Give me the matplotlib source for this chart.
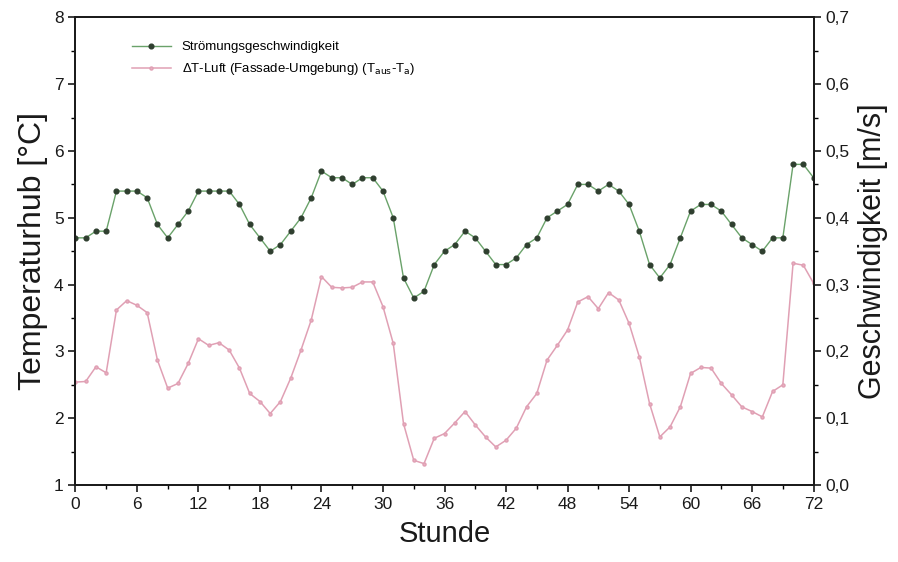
import matplotlib
matplotlib.use('Agg')
import matplotlib.pyplot as plt
from matplotlib.ticker import MultipleLocator, FuncFormatter

plt.rcParams['font.family'] = ['Liberation Sans', 'DejaVu Sans']

# Stunden 0..72
stunde = list(range(73))

# Strömungsgeschwindigkeit [m/s]
geschw = [0.37, 0.37, 0.38, 0.38, 0.44, 0.44, 0.44, 0.43, 0.39, 0.37,
          0.39, 0.41, 0.44, 0.44, 0.44, 0.44, 0.42, 0.39, 0.37, 0.35,
          0.36, 0.38, 0.40, 0.43, 0.47, 0.46, 0.46, 0.45, 0.46, 0.46,
          0.44, 0.40, 0.31, 0.28, 0.29, 0.33, 0.35, 0.36, 0.38, 0.37,
          0.35, 0.33, 0.33, 0.34, 0.36, 0.37, 0.40, 0.41, 0.42, 0.45,
          0.45, 0.44, 0.45, 0.44, 0.42, 0.38, 0.33, 0.31, 0.33, 0.37,
          0.41, 0.42, 0.42, 0.41, 0.39, 0.37, 0.36, 0.35, 0.37, 0.37,
          0.48, 0.48, 0.46]

# Delta T Luft [°C]
delta_t = [2.54, 2.55, 2.77, 2.68, 3.62, 3.76, 3.69, 3.58, 2.87, 2.45,
           2.52, 2.82, 3.19, 3.09, 3.13, 3.02, 2.75, 2.37, 2.25, 2.07,
           2.25, 2.60, 3.02, 3.47, 4.12, 3.96, 3.95, 3.96, 4.04, 4.04,
           3.67, 3.12, 1.92, 1.37, 1.32, 1.70, 1.77, 1.93, 2.10, 1.90,
           1.72, 1.57, 1.67, 1.85, 2.17, 2.37, 2.87, 3.09, 3.32, 3.74,
           3.82, 3.64, 3.88, 3.77, 3.42, 2.92, 2.22, 1.72, 1.87, 2.17,
           2.67, 2.76, 2.75, 2.52, 2.35, 2.17, 2.10, 2.02, 2.40, 2.50,
           4.32, 4.29, 4.02]

fig = plt.figure(figsize=(8.98, 5.62), dpi=100)
ax1 = fig.add_axes([0.084, 0.137, 0.822, 0.832])
ax2 = ax1.twinx()

l2, = ax1.plot(stunde, delta_t, color='#e0a0b4', lw=1.1, marker='o',
               ms=2.2, mfc='#e8b0c0', mec='#e0a0b4',
               label='ΔT-Luft (Fassade-Umgebung) (T$_{\\mathrm{aus}}$-T$_{\\mathrm{a}}$)')
l1, = ax2.plot(stunde, geschw, color='#6aa26a', lw=1.0, marker='o',
               ms=3.4, mfc='#2f3f2f', mec='#2f3f2f',
               label='Strömungsgeschwindigkeit')

ax1.set_xlim(0, 72)
ax1.set_ylim(1, 8)
ax2.set_ylim(0, 0.7)

ax1.xaxis.set_major_locator(MultipleLocator(6))
ax1.xaxis.set_minor_locator(MultipleLocator(3))
ax1.yaxis.set_major_locator(MultipleLocator(1))
ax1.yaxis.set_minor_locator(MultipleLocator(0.5))
ax2.yaxis.set_major_locator(MultipleLocator(0.1))
ax2.yaxis.set_minor_locator(MultipleLocator(0.05))
ax2.yaxis.set_major_formatter(FuncFormatter(lambda v, p: f'{v:.1f}'.replace('.', ',')))

for ax in (ax1, ax2):
    ax.tick_params(which='major', direction='out', length=5, width=1.2,
                   labelsize=12.5, colors='#1a1a1a')
    ax.tick_params(which='minor', direction='out', length=3, width=1.0)
    for s in ax.spines.values():
        s.set_linewidth(1.3)
        s.set_color('#1a1a1a')

ax1.set_xlabel('Stunde', fontsize=21, labelpad=6, color='#1a1a1a')
ax1.set_ylabel('Temperaturhub [°C]', fontsize=23, labelpad=4, color='#1a1a1a')
ax2.set_ylabel('Geschwindigkeit [m/s]', fontsize=22, labelpad=6, color='#1a1a1a')

ax1.legend([l1, l2], [l1.get_label(), l2.get_label()], loc='upper left',
           bbox_to_anchor=(0.06, 0.975), frameon=False, fontsize=9.5,
           handlelength=3, labelspacing=0.6, numpoints=1)

fig.savefig('out.png', dpi=100)
